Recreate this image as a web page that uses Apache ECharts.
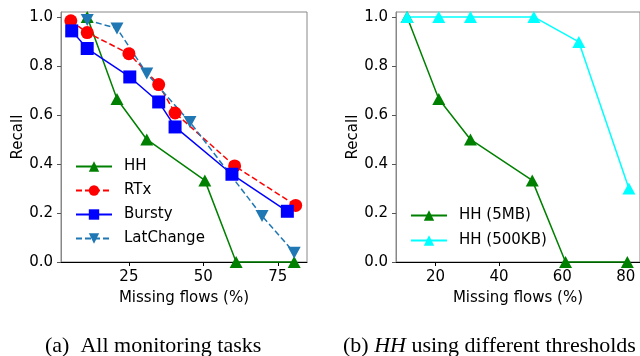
<!DOCTYPE html>
<html>
<head>
<meta charset="utf-8">
<script src="https://cdn.jsdelivr.net/npm/echarts@6/dist/echarts.min.js"></script>
<style>
  html, body { margin: 0; padding: 0; background: #fff; }
  #chart { width: 640px; height: 356px; }
</style>
</head>
<body>
<div id="chart"></div>
<script>
// (a) all monitoring tasks
var hhX = [11, 21, 31, 50.5, 61, 80.5];
var hhY = [1.0, 0.665, 0.5, 0.333, 0, 0];
var rtxX = [5.5, 11, 25, 35, 40.5, 60.5, 81];
var rtxY = [0.984, 0.936, 0.85, 0.724, 0.608, 0.392, 0.231];
var burstyX = [5.8, 11, 25.3, 35, 40.5, 59.6, 78.2];
var burstyY = [0.943, 0.871, 0.755, 0.653, 0.551, 0.358, 0.207];
var latX = [11, 21, 31, 45.5, 69.7, 80.5];
var latY = [0.987, 0.953, 0.769, 0.571, 0.188, 0.038];

// (b) HH with different thresholds
var hh5mbX = [11, 21, 31, 50.5, 61, 80.5];
var hh5mbY = [1.0, 0.665, 0.5, 0.333, 0, 0];
var hh500kbX = [11, 21, 31, 51, 65.2, 81];
var hh500kbY = [1.0, 1.0, 1.0, 1.0, 0.898, 0.3];

var xTicksA = [25, 50, 75];
var xTicksB = [20, 40, 60, 80];
var yTicks = [0, 0.2, 0.4, 0.6, 0.8, 1.0];

var FONT = 'DejaVu Sans';
var zip = function (xs, ys) { return xs.map(function (x, i) { return [x, ys[i]]; }); };

var xAxisOf = function (idx, min, max, ticks) {
    return {
        type: 'value', gridIndex: idx, min: min, max: max,
        name: 'Missing flows (%)', nameLocation: 'middle', nameGap: 29,
        nameTextStyle: { fontFamily: FONT, fontSize: 15, color: '#000' },
        splitLine: { show: false },
        axisLine: { show: true, lineStyle: { color: '#000', width: 1 } },
        axisTick: { show: true, length: 4, customValues: ticks, lineStyle: { color: '#000' } },
        axisLabel: { customValues: ticks, margin: 8, fontFamily: FONT, fontSize: 15, color: '#000' }
    };
};
var yAxisOf = function (idx) {
    return {
        type: 'value', gridIndex: idx, min: 0, max: 1.02,
        name: 'Recall', nameLocation: 'middle', nameGap: 35,
        nameTextStyle: { fontFamily: FONT, fontSize: 15, color: '#000' },
        splitLine: { show: false },
        axisLine: { show: true, lineStyle: { color: '#888', width: 1 } },
        axisTick: { show: true, length: 4, customValues: yTicks, lineStyle: { color: '#555' } },
        axisLabel: {
            customValues: yTicks, margin: 8, fontFamily: FONT, fontSize: 15, color: '#000',
            formatter: function (v) { return v.toFixed(1); }
        }
    };
};
var lineSeries = function (name, idx, data, color, symbol, dashed, rotate) {
    return {
        name: name, type: 'line', xAxisIndex: idx, yAxisIndex: idx,
        data: data, symbol: symbol,
        symbolSize: symbol === 'triangle' ? [13, 12] : 13,
        symbolRotate: rotate || 0,
        showAllSymbol: true, clip: false,
        lineStyle: { color: color, width: 1.5, type: dashed ? [6, 3] : 'solid' },
        itemStyle: { color: color, borderWidth: 0 }
    };
};

var chart = echarts.init(document.getElementById('chart'), null, { renderer: 'canvas' });
chart.setOption({
    animation: false,
    backgroundColor: '#fff',
    grid: [
        { left: 61, top: 12, width: 246, height: 250, show: true, borderColor: '#888', borderWidth: 1 },
        { left: 396, top: 12, width: 247, height: 250, show: true, borderColor: '#888', borderWidth: 1 }
    ],
    xAxis: [xAxisOf(0, 2.2, 84.8, xTicksA), xAxisOf(1, 7.5, 84.5, xTicksB)],
    yAxis: [yAxisOf(0), yAxisOf(1)],
    legend: [
        {
            orient: 'vertical', left: 75, top: 159, padding: 0,
            itemWidth: 36, itemHeight: 13, itemGap: 9,
            textStyle: { fontFamily: FONT, fontSize: 15, color: '#000', padding: [0, 0, 0, 7] },
            data: ['HH', 'RTx', 'Bursty', 'LatChange']
        },
        {
            orient: 'vertical', left: 410, top: 208, padding: 0,
            itemWidth: 36, itemHeight: 13, itemGap: 10,
            textStyle: { fontFamily: FONT, fontSize: 15, color: '#000', padding: [0, 0, 0, 7] },
            data: ['HH (5MB)', 'HH (500KB)']
        }
    ],
    series: [
        lineSeries('HH', 0, zip(hhX, hhY), '#008000', 'triangle', false),
        lineSeries('RTx', 0, zip(rtxX, rtxY), '#ff0000', 'circle', true),
        lineSeries('Bursty', 0, zip(burstyX, burstyY), '#0000ff', 'rect', false),
        lineSeries('LatChange', 0, zip(latX, latY), '#1f77b4', 'triangle', true, 180),
        lineSeries('HH (5MB)', 1, zip(hh5mbX, hh5mbY), '#008000', 'triangle', false),
        lineSeries('HH (500KB)', 1, zip(hh500kbX, hh500kbY), '#00ffff', 'triangle', false)
    ],
    graphic: [
        {
            type: 'text', left: 'center', x: 0, top: 335,
            style: { text: '(a)  All monitoring tasks', font: '22px "Liberation Serif"', fill: '#000', x: 156, align: 'center' },
            left: 45
        },
        {
            type: 'text', left: 343, top: 335,
            style: {
                text: '{n|(b) }{i|HH}{n| using different thresholds}',
                rich: {
                    n: { font: '22px "Liberation Serif"', fill: '#000' },
                    i: { font: 'italic 22px "Liberation Serif"', fill: '#000' }
                }
            }
        }
    ]
});
</script>
</body>
</html>
